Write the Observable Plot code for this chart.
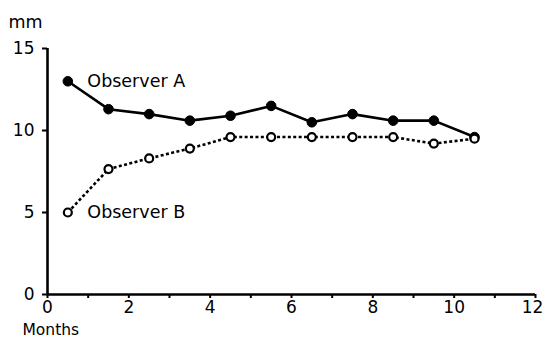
<!DOCTYPE html>
<html>
<head>
<meta charset="utf-8">
<script src="https://cdn.jsdelivr.net/npm/d3@7"></script>
<script src="https://cdn.jsdelivr.net/npm/@observablehq/plot@0.6"></script>
<style>
  html, body { margin: 0; padding: 0; background: #fff; }
  #chart svg { display: block; }
</style>
</head>
<body>
<div id="chart"></div>
<script>
const months = [0.5, 1.5, 2.5, 3.5, 4.5, 5.5, 6.5, 7.5, 8.5, 9.5, 10.5];
const observerA = [13.0, 11.3, 11.0, 10.6, 10.9, 11.5, 10.5, 11.0, 10.6, 10.6, 9.6];
const observerB = [5.0, 7.65, 8.3, 8.9, 9.6, 9.6, 9.6, 9.6, 9.6, 9.2, 9.5];
const xTicks = [0, 1, 2, 3, 4, 5, 6, 7, 8, 9, 10, 11, 12];
const xLabels = [0, 2, 4, 6, 8, 10];
const xLastLabel = [12];
const yTicks = [0, 5, 10, 15];
const seriesLabels = [
  {name: "Observer A", x: 0.98, y: 13.0},
  {name: "Observer B", x: 0.98, y: 5.0}
];

const dataA = months.map((m, i) => ({month: m, value: observerA[i]}));
const dataB = months.map((m, i) => ({month: m, value: observerB[i]}));

const font = "DejaVu Sans";

const chart = Plot.plot({
  width: 543,
  height: 338,
  marginLeft: 47,
  marginRight: 8,
  marginTop: 48,
  marginBottom: 44,
  style: {fontFamily: font, background: "#fff", color: "#000"},
  x: {domain: [0, 12]},
  y: {domain: [0, 15]},
  marks: [
    Plot.axisX({ticks: xTicks, tickSize: 4, strokeWidth: 2, text: null, label: null}),
    Plot.axisX({ticks: xLabels, tickSize: 0, tickPadding: 6, fontSize: 17, label: null}),
    Plot.axisX({ticks: xLastLabel, tickSize: 0, tickPadding: 6, fontSize: 17, dx: -3, label: null}),
    Plot.axisY({
      ticks: yTicks,
      tickSize: 5,
      tickPadding: 8,
      strokeWidth: 2,
      fontSize: 17,
      label: null
    }),
    Plot.ruleX([0], {stroke: "#000", strokeWidth: 2.6}),
    Plot.ruleY([0], {stroke: "#000", strokeWidth: 2.6}),
    Plot.line(dataB, {x: "month", y: "value", stroke: "#000", strokeWidth: 2.6, strokeDasharray: "3,2.4", strokeLinecap: "butt"}),
    Plot.line(dataA, {x: "month", y: "value", stroke: "#000", strokeWidth: 2.6}),
    Plot.dot(dataA, {x: "month", y: "value", r: 4.8, fill: "#000", stroke: "#000", strokeWidth: 1}),
    Plot.dot(dataB, {x: "month", y: "value", r: 4, fill: "#fff", stroke: "#000", strokeWidth: 2.2}),
    Plot.text(seriesLabels, {x: "x", y: "y", text: "name", textAnchor: "start", fontSize: 17.5, fill: "#000"}),
    Plot.text(["mm"], {frameAnchor: "top-left", dx: -39, dy: -33, textAnchor: "start", fontSize: 17.5, fill: "#000"}),
    Plot.text(["Months"], {frameAnchor: "bottom-left", dx: -25, dy: 40, textAnchor: "start", fontSize: 15.5, fill: "#000"})
  ]
});
document.getElementById("chart").appendChild(chart);
</script>
</body>
</html>
